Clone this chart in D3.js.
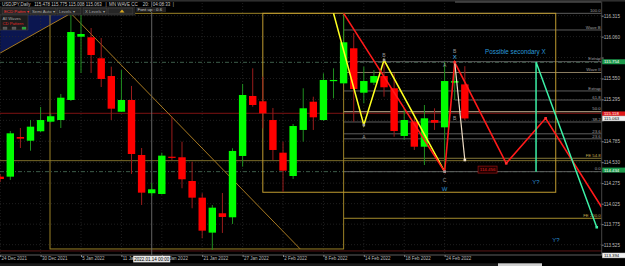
<!DOCTYPE html>
<html>
<head>
<meta charset="utf-8">
<script src="https://cdn.jsdelivr.net/npm/d3@7"></script>
<style>
  html, body { margin: 0; padding: 0; background: #000; overflow: hidden; }
  svg { display: block; }
  text { font-family: "Liberation Sans", Arial, sans-serif; }
</style>
</head>
<body>
<div id="chart"></div>
<script>
// ---------------  DATA  ---------------
const dates = ["2021-12-24","2021-12-27","2021-12-28","2021-12-29","2021-12-30","2021-12-31",
  "2022-01-03","2022-01-04","2022-01-05","2022-01-06","2022-01-07","2022-01-10","2022-01-11",
  "2022-01-12","2022-01-13","2022-01-14","2022-01-17","2022-01-18","2022-01-19","2022-01-20",
  "2022-01-21","2022-01-24","2022-01-25","2022-01-26","2022-01-27","2022-01-28","2022-01-31",
  "2022-02-01","2022-02-02","2022-02-03","2022-02-04","2022-02-07","2022-02-08","2022-02-09",
  "2022-02-10","2022-02-11","2022-02-14","2022-02-15","2022-02-16","2022-02-17","2022-02-18",
  "2022-02-21","2022-02-22","2022-02-23","2022-02-24","2022-02-25","2022-02-28"];
const opens = [114.354,114.354,114.837,114.792,114.907,115.024,115.044,115.288,116.059,116.052,
  115.796,115.580,115.145,115.288,114.618,114.152,114.143,114.597,114.590,114.301,114.098,113.672,
  113.908,113.859,114.606,115.337,115.272,115.044,114.646,114.362,114.923,115.267,115.044,115.519,
  115.491,115.918,115.377,115.499,115.580,115.431,114.850,115.024,114.719,115.044,114.955,115.499,115.478];
const highs = [114.387,114.910,114.947,115.044,115.203,115.118,115.361,116.335,116.348,116.165,
  116.043,115.694,115.653,115.459,114.703,114.277,114.646,115.085,114.780,114.536,114.152,114.009,
  114.155,114.700,115.483,115.674,115.572,115.191,114.780,114.996,115.431,115.328,115.613,115.674,
  116.344,116.104,115.694,115.653,115.775,115.613,115.191,115.085,115.227,115.187,115.751,115.747,115.700];
const lows = [114.289,114.314,114.703,114.670,114.898,115.014,114.947,115.276,115.617,115.617,
  115.446,115.044,115.145,114.387,114.009,114.119,114.137,114.557,114.213,113.969,113.603,113.461,
  113.668,113.778,114.476,115.206,114.943,114.557,114.171,114.326,114.780,114.923,115.032,115.309,
  115.483,115.024,115.248,115.471,115.328,114.841,114.801,114.679,114.496,114.923,114.415,115.288,115.040];
const closes = [114.326,114.882,114.817,114.963,115.044,115.090,115.316,116.116,116.092,115.836,
  115.544,115.182,115.288,114.630,114.159,114.200,114.610,114.585,114.322,114.098,113.696,113.976,
  113.863,114.667,115.349,115.227,115.126,114.679,114.427,114.971,115.187,115.077,115.532,115.532,
  115.991,115.422,115.519,115.580,115.443,114.910,115.044,114.719,115.065,115.011,115.519,115.519,115.063];

// time axis (bar index -> label)
const timeTickIdx = [0,4,8,12,16,20,24,28,32,36,40,44];
const timeTickLabels = ["24 Dec 2021","30 Dec 2021","5 Jan 2022","11 Jan 2022","17 Jan 2022",
  "21 Jan 2022","27 Jan 2022","2 Feb 2022","8 Feb 2022","14 Feb 2022","18 Feb 2022","24 Feb 2022"];
// price axis
const priceTicks = [116.315,116.060,115.805,115.550,115.295,115.040,114.785,114.530,114.275,114.025,113.775,113.525];
const priceMarks = [115.754, 115.118, 115.063, 114.434, 113.394];
const priceMarkKinds = ["green","red","white","green","white"];

// fibo / level lines (price, first bar, label)
const fibPrices = [116.344,116.141,115.755,115.623,115.398,115.288,115.145,115.020,114.876,114.815,114.578,114.415,113.847];
const fibStart  = [34,34,34,34,34,45,34,34,34,34,34,34,34];
const fibLabels = ["100.0","Wave B","Extrap","Wave II","Extrap","61.8","50.0","38.2","23.6","23.6","FE 54.8","0.0","FE 200.0"];
const fibKinds  = ["gray","gray","gray","beige","gray","gray","bright","gray","gray","gray","olive","gray","gold"];

// full width horizontal lines
const hLinePrices = [115.747, 114.415, 115.126, 114.549, 113.449];
const hLineKinds  = ["dash","dash","red","olive","darkred"];

// drawn objects, points as [bar index, price]
const boxA = [[4.93,116.344],[34,113.473]];
const boxB = [[26,116.344],[55,114.164]];
const blueTriangle = [[0,115.86],[7,116.344],[0,116.344]];
const trendLines = [[[0,115.86],[7,116.344]], [[7,116.344],[29.7,113.473]]];
const yellowWave = [[33,116.344],[36,114.984],[38,115.775],[44,114.415]];
const redWave = [[34,116.344],[44,114.415],[45,115.747],[50.1,114.517],[54,115.065],[59.55,113.981]];
const whiteWave = [[45,115.747],[46,114.557]];
const mintWave = [[53.05,114.415],[53.05,115.752],[59.06,113.738]];

const waveLabels = [
  {t:"A", i:36, p:114.837, k:"gray"},
  {t:"B", i:38, p:115.830, k:"gray"},
  {t:"C", i:44, p:114.314, k:"gray"},
  {t:"W", i:44, p:114.200, k:"blue"},
  {t:"A", i:44, p:115.714, k:"gray"},
  {t:"B", i:45, p:115.880, k:"gray"},
  {t:"X", i:45, p:115.815, k:"cyan"},
  {t:"B", i:45, p:115.065, k:"gray"},
  {t:"Y?", i:53.05, p:114.286, k:"blue"},
  {t:"Y?", i:55.03, p:113.583, k:"blue"}
];

// ---------------  SETUP  ---------------
const W = 625, H = 266;
const plotR = 601.7, plotB = 255;

const x = d3.scaleLinear().domain([0, 59.55]).range([0.2, plotR]);
const y = d3.scaleLinear().domain([113.525, 116.315]).range([244.7, 15.7]);
const line = d3.line().x(d => x(d[0])).y(d => y(d[1]));

const svg = d3.select("#chart").append("svg").attr("width", W).attr("height", H);
svg.append("rect").attr("width", W).attr("height", H).attr("fill", "#000");

svg.append("clipPath").attr("id", "plotclip")
  .append("rect").attr("x", 0).attr("y", 0).attr("width", plotR).attr("height", plotB);
const plot = svg.append("g").attr("clip-path", "url(#plotclip)");

// blue triangle top left
plot.append("path")
  .attr("d", line(blueTriangle) + "Z")
  .attr("fill", "#0b1650");

// grid
plot.selectAll(".vgrid").data(timeTickIdx).enter().append("line")
  .attr("x1", d => x(d)).attr("x2", d => x(d))
  .attr("y1", 0).attr("y2", plotB)
  .attr("stroke", "#2c2c2c").attr("stroke-width", 0.7).attr("stroke-dasharray", "1,2");
plot.selectAll(".hgrid").data(priceTicks).enter().append("line")
  .attr("x1", 0).attr("x2", plotR)
  .attr("y1", d => y(d)).attr("y2", d => y(d))
  .attr("stroke", "#2c2c2c").attr("stroke-width", 0.7).attr("stroke-dasharray", "1,2");

// full width lines
const hColor = {dash:"#3d5c4a", red:"#7e1212", olive:"#7a6a28", darkred:"#5a1616"};
plot.selectAll(".hline").data(hLinePrices).enter().append("line")
  .attr("x1", 0).attr("x2", plotR)
  .attr("y1", d => y(d)).attr("y2", d => y(d))
  .attr("stroke", (d, i) => hColor[hLineKinds[i]])
  .attr("stroke-width", 1)
  .attr("stroke-dasharray", (d, i) => hLineKinds[i] === "dash" ? "4,2,1,2" : null);

// fibo levels
const fibLine = {gray:"#5e5e5e", beige:"#8c7e62", bright:"#c4b494", olive:"#857838", gold:"#a48c2c"};
const fibText = {gray:"#a0a0a0", beige:"#a0a0a0", bright:"#b0b0b0", olive:"#c8b050", gold:"#c8b050"};
plot.selectAll(".fib").data(fibPrices).enter().append("line")
  .attr("x1", (d, i) => x(fibStart[i])).attr("x2", plotR)
  .attr("y1", d => y(d)).attr("y2", d => y(d))
  .attr("stroke", (d, i) => fibLine[fibKinds[i]]).attr("stroke-width", 1);
plot.selectAll(".fibt").data(fibPrices).enter().append("text")
  .attr("x", plotR - 1).attr("y", d => y(d) - 1.3)
  .attr("text-anchor", "end").attr("font-size", 4.3)
  .attr("fill", (d, i) => fibText[fibKinds[i]])
  .text((d, i) => fibLabels[i]);

// boxes
[boxA, boxB].forEach((b, k) => {
  plot.append("rect")
    .attr("x", x(b[0][0])).attr("y", y(b[0][1]))
    .attr("width", x(b[1][0]) - x(b[0][0]))
    .attr("height", y(b[1][1]) - y(b[0][1]))
    .attr("fill", "none")
    .attr("stroke", k === 0 ? "#9c8226" : "#c09c30")
    .attr("stroke-width", 1);
});

// trend lines
trendLines.forEach(t => {
  plot.append("path").attr("d", line(t))
    .attr("fill", "none").attr("stroke", "#a87a22").attr("stroke-width", 1);
});
plot.append("rect")
  .attr("x", x(7) - 1.8).attr("y", y(116.344) - 2)
  .attr("width", 3.6).attr("height", 3.6)
  .attr("fill", "#c8a050");

// crosshair
plot.append("line")
  .attr("x1", x(15)).attr("x2", x(15)).attr("y1", 0).attr("y2", plotB)
  .attr("stroke", "#6e6e6e").attr("stroke-width", 0.9);

// ---------------  CANDLES  ---------------
const candles = plot.selectAll(".candle").data(dates).enter().append("g");
candles.append("line")
  .attr("x1", (d, i) => x(i)).attr("x2", (d, i) => x(i))
  .attr("y1", (d, i) => y(highs[i])).attr("y2", (d, i) => y(lows[i]))
  .attr("stroke", (d, i) => closes[i] >= opens[i] ? "#1f8f1f" : "#9a1c1c")
  .attr("stroke-width", 1);
candles.append("rect")
  .attr("x", (d, i) => x(i) - 3.7)
  .attr("y", (d, i) => y(Math.max(opens[i], closes[i])))
  .attr("width", 7.4)
  .attr("height", (d, i) => Math.max(1.2, Math.abs(y(opens[i]) - y(closes[i]))))
  .attr("fill", (d, i) => closes[i] >= opens[i] ? "#00ff00" : "#ff0000");

// ---------------  WAVES  ---------------
plot.append("path").attr("d", line(yellowWave))
  .attr("fill", "none").attr("stroke", "#ffff20").attr("stroke-width", 1.5);
plot.append("path").attr("d", line(redWave))
  .attr("fill", "none").attr("stroke", "#ff1a1a").attr("stroke-width", 1.6);
plot.append("path").attr("d", line(whiteWave))
  .attr("fill", "none").attr("stroke", "#eedcc4").attr("stroke-width", 1.2);
plot.append("path").attr("d", line(mintWave))
  .attr("fill", "none").attr("stroke", "#3cf0a6").attr("stroke-width", 1.5);

const markers = [
  {pts: yellowWave.slice(1), c: "#9a9a9a"},
  {pts: redWave.slice(2, 5), c: "#ff3030"},
  {pts: whiteWave.slice(1), c: "#f0e0c8"},
  {pts: mintWave.slice(2), c: "#3cf0a6"}
];
markers.forEach(m => {
  plot.selectAll(null).data(m.pts).enter().append("rect")
    .attr("x", d => x(d[0]) - 1.3).attr("y", d => y(d[1]) - 1.3)
    .attr("width", 2.6).attr("height", 2.6).attr("fill", m.c);
});

const labColor = {gray:"#9a9a9a", blue:"#2a8fd0", cyan:"#4ab4e8"};
plot.selectAll(".wl").data(waveLabels).enter().append("text")
  .attr("x", d => x(d.i)).attr("y", d => y(d.p))
  .attr("dy", "0.35em").attr("text-anchor", "middle")
  .attr("font-size", d => d.k === "gray" ? 5 : 6)
  .attr("fill", d => labColor[d.k])
  .text(d => d.t);

plot.append("text")
  .attr("x", x(48)).attr("y", y(115.873)).attr("dy", "0.35em")
  .attr("font-size", 6.3).attr("fill", "#2a9bd8")
  .text("Possible secondary X");

// red price box
const rb = plot.append("g").attr("transform", `translate(${x(48.25)},${y(114.44)})`);
rb.append("rect").attr("x", -9.5).attr("y", -3.5).attr("width", 19).attr("height", 7)
  .attr("fill", "#1e0000").attr("stroke", "#9a1010").attr("stroke-width", 0.7);
rb.append("text").attr("text-anchor", "middle").attr("dy", "0.35em")
  .attr("font-size", 4.4).attr("fill", "#e02020").text("114.456");

// ---------------  AXES  ---------------
svg.append("line").attr("x1", plotR).attr("x2", plotR).attr("y1", 0).attr("y2", plotB)
  .attr("stroke", "#555").attr("stroke-width", 0.8);
svg.append("line").attr("x1", 0).attr("x2", W).attr("y1", plotB).attr("y2", plotB)
  .attr("stroke", "#777").attr("stroke-width", 0.8);

// tick labels that sit under a coloured price mark are not shown (as in the terminal)
const hiddenTick = d => priceMarks.some(p => Math.abs(y(p) - y(d)) < 4.5);
const yAxis = svg.append("g")
  .attr("transform", `translate(${plotR},0)`)
  .call(d3.axisRight(y).tickValues(priceTicks).tickSize(2)
    .tickFormat(d => hiddenTick(d) ? "" : d3.format(".3f")(d)));
yAxis.select(".domain").remove();
yAxis.selectAll("line").attr("stroke", "#888");
yAxis.selectAll("text").attr("x", 2).attr("font-size", 4.6).attr("fill", "#bdbdbd")
  .attr("font-family", "Liberation Sans, Arial, sans-serif");

const markStyle = {green:["#1c9a4c","#ffffff"], red:["#e01818","#ffffff"], white:["#f2f2f2","#000000"]};
const pm = svg.selectAll(".pm").data(priceMarks).enter().append("g")
  .attr("transform", d => `translate(${plotR + 0.5},${y(d)})`);
pm.append("rect").attr("x", 0).attr("y", -2.5).attr("width", W - plotR).attr("height", 5)
  .attr("fill", (d, i) => markStyle[priceMarkKinds[i]][0])
  .attr("stroke", (d, i) => priceMarkKinds[i] === "white" ? "#999" : "none").attr("stroke-width", 0.4);
pm.append("text").attr("x", 1.8).attr("dy", "0.35em").attr("font-size", 4.3)
  .attr("fill", (d, i) => markStyle[priceMarkKinds[i]][1])
  .text(d => d3.format(".3f")(d));

const xAxis = svg.append("g")
  .attr("transform", `translate(0,${plotB})`)
  .call(d3.axisBottom(x).tickValues(timeTickIdx).tickSize(2).tickFormat((d, i) => timeTickLabels[i]));
xAxis.select(".domain").remove();
xAxis.selectAll("line").attr("stroke", "#888");
xAxis.selectAll("text").attr("text-anchor", "start").attr("x", 0.8).attr("y", 2.2)
  .attr("font-size", 4.5).attr("fill", "#b8b8b8")
  .attr("font-family", "Liberation Sans, Arial, sans-serif");

// crosshair time label
svg.append("rect").attr("x", x(15) - 18.5).attr("y", plotB + 0.8).attr("width", 37).attr("height", 6.6)
  .attr("fill", "#e6e6e6");
svg.append("text").attr("x", x(15)).attr("y", plotB + 4.1).attr("dy", "0.35em")
  .attr("text-anchor", "middle").attr("font-size", 4.5).attr("fill", "#000")
  .text("2022.01.14 00:00");

svg.append("rect").attr("x", 498).attr("y", 263.3).attr("width", 44).attr("height", 3).attr("fill", "#cfcfcf");
svg.append("rect").attr("x", 0).attr("y", 263.3).attr("width", 498).attr("height", 3).attr("fill", "#1a1a1a");

// ---------------  HEADER / PANEL  ---------------
svg.append("rect").attr("x", 0).attr("y", 0).attr("width", W).attr("height", 1.6).attr("fill", "#2e2e2e");
svg.append("rect").attr("x", 455).attr("y", 1.4).attr("width", 146).attr("height", 1.2).attr("fill", "#5a5a5a");

svg.append("text").attr("x", 2).attr("y", 6)
  .attr("font-size", 4.5).attr("fill", "#c8c8c8").attr("xml:space", "preserve")
  .text("USDJPY,Daily   115.478 115.775 115.008 115.063   |  MN WAVE CC    20:   04:08:33  |");

svg.append("rect").attr("x", 0).attr("y", 7).attr("width", 135).attr("height", 8)
  .attr("fill", "#161616").attr("stroke", "#4a4a4a").attr("stroke-width", 0.5);
const buttons = [
  {t:"ECD Pattrn ▾", x0:2, w:27, c:"#ff3434"},
  {t:"Semi Auto ▾", x0:30, w:26, c:"#a8a8a8"},
  {t:"Levels ▾", x0:57, w:24, c:"#a8a8a8"},
  {t:"X Levels ▾", x0:83, w:24, c:"#a8a8a8"},
  {t:"", x0:108, w:25, c:"#d0a020"}
];
const bt = svg.selectAll(".btn").data(buttons).enter().append("g");
bt.append("rect").attr("x", d => d.x0).attr("y", 8).attr("width", d => d.w).attr("height", 6)
  .attr("fill", "#262626").attr("stroke", "#505050").attr("stroke-width", 0.5);
bt.append("text").attr("x", d => d.x0 + 2).attr("y", 11).attr("dy", "0.35em")
  .attr("font-size", 4.3).attr("fill", d => d.c).text(d => d.t);
svg.append("path").attr("d", "M119.5,12.6 L122,9.4 L124.5,12.6 Z").attr("fill", "#d8a820");

svg.append("rect").attr("x", 136).attr("y", 7).attr("width", 30).attr("height", 5)
  .attr("fill", "#202020");
svg.append("text").attr("x", 137.5).attr("y", 9.6).attr("dy", "0.35em")
  .attr("font-size", 4.4).attr("fill", "#c8c8c8").text("Font up : 0.6");

svg.append("rect").attr("x", 0).attr("y", 15).attr("width", 28).attr("height", 15)
  .attr("fill", "#1c1c1c").attr("stroke", "#4a4a4a").attr("stroke-width", 0.5);
svg.append("text").attr("x", 2.5).attr("y", 18.8).attr("dy", "0.35em")
  .attr("font-size", 4.2).attr("fill", "#a8a8a8").text("All Waves");
svg.append("text").attr("x", 2.5).attr("y", 24).attr("dy", "0.35em")
  .attr("font-size", 4.2).attr("fill", "#e02828").text("CD Pattern");
[[3,"#555"],[12,"#555"],[22,"#22aa33"]].forEach(b => {
  svg.append("rect").attr("x", b[0]).attr("y", 27).attr("width", 4).attr("height", 2.4)
    .attr("fill", b[1]).attr("stroke", "#777").attr("stroke-width", 0.3);
});
</script>
</body>
</html>
